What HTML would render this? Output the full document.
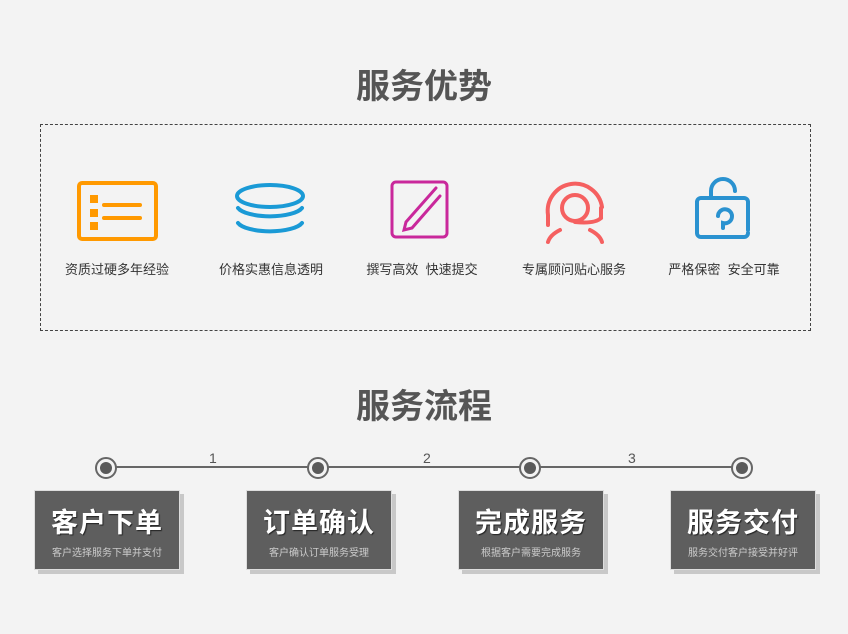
<!DOCTYPE html>
<html><head><meta charset="utf-8"><style>
body{margin:0;width:848px;height:634px;background:#f3f3f3;position:relative;overflow:hidden;font-family:"Liberation Sans","Noto Sans CJK SC",sans-serif;}
.t{position:absolute;left:0;width:848px;text-align:center;font-size:34px;font-weight:bold;color:#555;}
.dash{position:absolute;left:40px;top:124px;width:769px;height:205px;border:1px dashed #444;}
.lab{position:absolute;top:259px;font-size:13px;color:#333;width:160px;text-align:center;}
.box{position:absolute;top:490px;width:144px;height:78px;background:#5e5e5e;border:1px solid #ddd;box-shadow:4px 4px 0 #c8c8c8;color:#fff;text-align:center;}
.box b{display:block;font-size:27px;margin-top:10px;letter-spacing:1px;text-shadow:1px 1px 1px #222;}
.box span{display:block;font-size:10px;color:#ccc;margin-top:4px;}
.dot{position:absolute;top:457px;width:18px;height:18px;border:2px solid #666;border-radius:50%;background:#f3f3f3;}
.dot:after{content:"";position:absolute;left:3px;top:3px;width:12px;height:12px;border-radius:50%;background:#5a5a5a;}
.n{position:absolute;top:450px;font-size:14px;color:#555;}
</style></head><body>
<div class="t" style="top:59px">服务优势</div>
<div class="dash"></div>
<svg style="position:absolute;left:0;top:0" width="848" height="634">
<g fill="none" stroke-linecap="round">
<rect x="79" y="183" width="77" height="56" rx="3" stroke="#f90" stroke-width="4"/>
<g fill="#f90"><rect x="90" y="195" width="8" height="8"/><rect x="90" y="209" width="8" height="8"/><rect x="90" y="222" width="8" height="8"/></g>
<line x1="104" y1="205" x2="140" y2="205" stroke="#f90" stroke-width="4"/>
<line x1="104" y1="218" x2="140" y2="218" stroke="#f90" stroke-width="4"/>
<g stroke="#1a9ad6" stroke-width="4"><ellipse cx="270" cy="196" rx="33" ry="11"/><path d="M238 208a33 11 0 0 0 64 0"/><path d="M238 223a33 11 0 0 0 64 0"/></g>
<rect x="392" y="182" width="55" height="55" rx="4" stroke="#c9289b" stroke-width="3"/>
<path d="M436 188 L406 222 L404 230 L412 228 L440 196" stroke="#c9289b" stroke-width="3"/>
<g stroke="#f56060" stroke-width="4"><path d="M548 215a27 27 0 0 1 54 -8 M548 215v10 M601 208v10"/><circle cx="575" cy="208" r="13"/><path d="M560 230q-10 5 -12 12 M590 230q10 5 12 12 M575 222q20 2 26 -4"/></g>
<g stroke="#2a92d0" stroke-width="4"><path d="M711 198v-7a12 12 0 0 1 24 0"/><path d="M748 230v-28a4 4 0 0 0 -4 -4h-43a4 4 0 0 0 -4 4v31a4 4 0 0 0 4 4h43a4 4 0 0 0 4 -4"/><path d="M718 216a7 7 0 1 1 5 7v5"/></g>
</g>
<line x1="106" y1="467" x2="742" y2="467" stroke="#666" stroke-width="2"/>
</svg>
<div class="lab" style="left:37px">资质过硬多年经验</div>
<div class="lab" style="left:191px">价格实惠信息透明</div>
<div class="lab" style="left:342px">撰写高效&nbsp; 快速提交</div>
<div class="lab" style="left:494px">专属顾问贴心服务</div>
<div class="lab" style="left:644px">严格保密&nbsp; 安全可靠</div>
<div class="t" style="top:379px">服务流程</div>
<div class="dot" style="left:95px"></div><div class="dot" style="left:307px"></div><div class="dot" style="left:519px"></div><div class="dot" style="left:731px"></div>
<div class="n" style="left:209px">1</div><div class="n" style="left:423px">2</div><div class="n" style="left:628px">3</div>
<div class="box" style="left:34px"><b>客户下单</b><span>客户选择服务下单并支付</span></div>
<div class="box" style="left:246px"><b>订单确认</b><span>客户确认订单服务受理</span></div>
<div class="box" style="left:458px"><b>完成服务</b><span>根据客户需要完成服务</span></div>
<div class="box" style="left:670px"><b>服务交付</b><span>服务交付客户接受并好评</span></div>
</body></html>
